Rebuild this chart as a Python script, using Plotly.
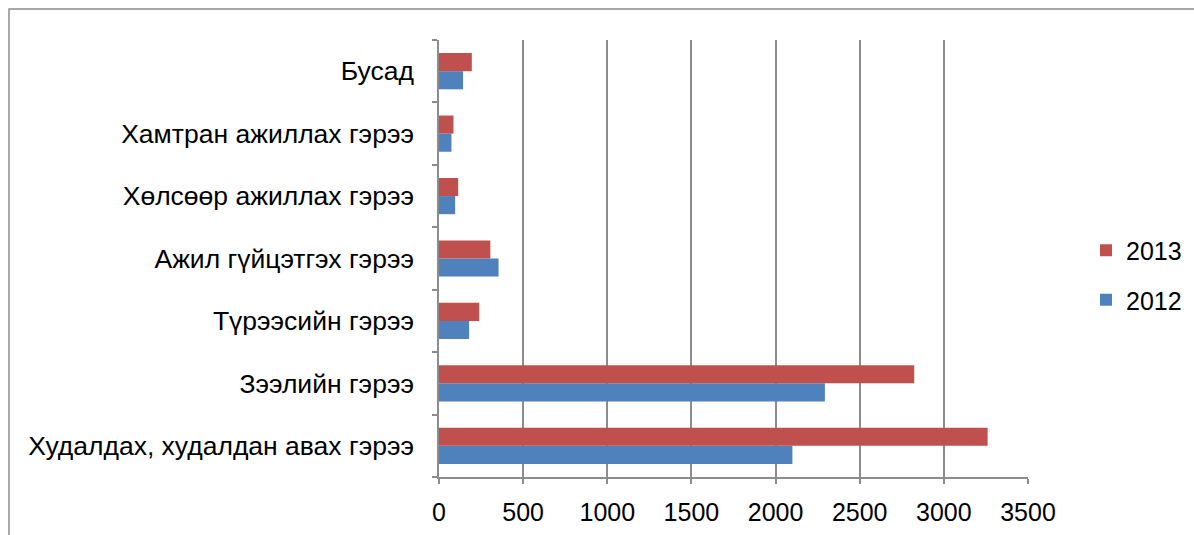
import plotly.graph_objects as go

categories = [
    "Худалдах, худалдан авах гэрээ",
    "Зээлийн гэрээ",
    "Түрээсийн гэрээ",
    "Ажил гүйцэтгэх гэрээ",
    "Хөлсөөр ажиллах гэрээ",
    "Хамтран ажиллах гэрээ",
    "Бусад",
]
values_2012 = [2100, 2293, 179, 354, 96, 74, 143]
values_2013 = [3260, 2824, 239, 305, 114, 86, 195]
x_ticks = [0, 500, 1000, 1500, 2000, 2500, 3000, 3500]

FONT = "Liberation Sans, Arial, sans-serif"

fig = go.Figure()
fig.add_trace(go.Bar(
    y=categories, x=values_2012, orientation="h", name="2012",
    marker=dict(color="#4F81BD", line=dict(width=0)), legendgroup="a", legendrank=2,
))
fig.add_trace(go.Bar(
    y=categories, x=values_2013, orientation="h", name="2013",
    marker=dict(color="#C0504D", line=dict(width=0)), legendgroup="b", legendrank=1,
))

L, R, T, B = 439, 1194 - 1028, 40, 535 - 477
W = 1194 - L - R
H = 535 - T - B

fig.update_layout(
    width=1194, height=535,
    margin=dict(l=L, r=R, t=T, b=B, autoexpand=False),
    paper_bgcolor="white", plot_bgcolor="white",
    barmode="group", bargap=0.42, bargroupgap=0.0,
    font=dict(family=FONT, size=25, color="black"),
    showlegend=True,
    legend=dict(
        xref="container", yref="container",
        x=1086 / 1194, xanchor="left",
        y=(535 - 275) / 535, yanchor="middle",
        traceorder="grouped", tracegroupgap=14,
        font=dict(size=25, family=FONT),
        bgcolor="rgba(0,0,0,0)",
    ),
    xaxis=dict(
        range=[0, 3500], tickvals=x_ticks, ticktext=[str(v) for v in x_ticks],
        showgrid=True, gridcolor="#8C8C8C", gridwidth=1.5,
        showline=True, linecolor="#8C8C8C", linewidth=1.5,
        ticks="outside", ticklen=5, tickcolor="#8C8C8C", tickwidth=1.5,
        zeroline=False, fixedrange=True, ticklabelstandoff=7,
        tickfont=dict(size=25, family=FONT), automargin=False,
    ),
    yaxis=dict(
        type="category", categoryorder="array", categoryarray=categories,
        showgrid=False, showline=True, linecolor="#8C8C8C", linewidth=1.5,
        ticks="outside", ticklen=5, tickcolor="#8C8C8C", tickwidth=1.5,
        tickson="boundaries", ticklabelstandoff=18, automargin=False,
        tickfont=dict(size=26.5, family=FONT),
    ),
    shapes=[dict(
        type="rect", xref="paper", yref="paper",
        x0=(9 - L) / W, x1=(1200 - L) / W,
        y0=(477 - 545) / H, y1=(477 - 9) / H,
        line=dict(color="#8C8C8C", width=1.5), fillcolor="rgba(0,0,0,0)",
        layer="below",
    )],
)

fig.write_html("out.html")
